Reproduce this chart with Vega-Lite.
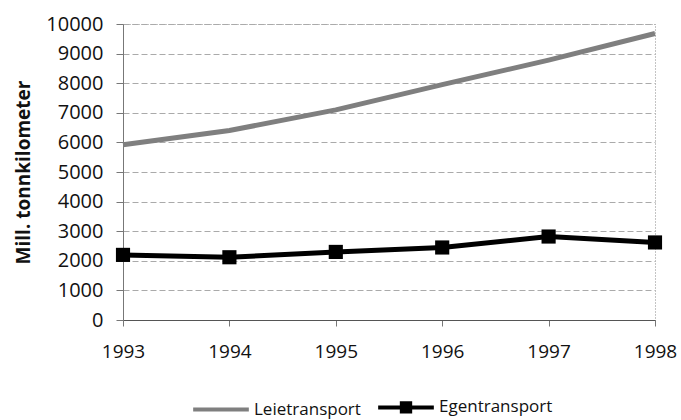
{
  "$schema": "https://vega.github.io/schema/vega-lite/v6.json",
  "autosize": {"type": "none"},
  "width": 532,
  "height": 296,
  "padding": {"left": 123, "top": 24, "right": 26, "bottom": 100},
  "background": "white",
  "config": {
    "font": "Open Sans",
    "view": {"stroke": "#888", "strokeDash": [1, 2], "strokeWidth": 1}
  },
  "data": {
    "values": [
      {"year": 1993, "series": "Leietransport", "value": 5920},
      {"year": 1994, "series": "Leietransport", "value": 6400},
      {"year": 1995, "series": "Leietransport", "value": 7100},
      {"year": 1996, "series": "Leietransport", "value": 7950},
      {"year": 1997, "series": "Leietransport", "value": 8780},
      {"year": 1998, "series": "Leietransport", "value": 9680},
      {"year": 1993, "series": "Egentransport", "value": 2200},
      {"year": 1994, "series": "Egentransport", "value": 2120},
      {"year": 1995, "series": "Egentransport", "value": 2300},
      {"year": 1996, "series": "Egentransport", "value": 2450},
      {"year": 1997, "series": "Egentransport", "value": 2820},
      {"year": 1998, "series": "Egentransport", "value": 2620}
    ]
  },
  "encoding": {
    "x": {
      "field": "year",
      "type": "quantitative",
      "scale": {"domain": [1993, 1998], "nice": false, "zero": false},
      "axis": {
        "title": null,
        "values": [1993, 1994, 1995, 1996, 1997, 1998],
        "format": "d",
        "grid": false,
        "domainColor": "#555",
        "tickColor": "#777",
        "tickSize": 6,
        "labelPadding": 16,
        "labelFontSize": 19,
        "labelColor": "#111",
        "labelFlush": false
      }
    },
    "y": {
      "field": "value",
      "type": "quantitative",
      "scale": {"domain": [0, 10000], "nice": false},
      "axis": {
        "title": "Mill. tonnkilometer",
        "titleFontSize": 19,
        "titleFontWeight": "bold",
        "titleColor": "#111",
        "titleX": -100,
        "titleY": 148,
        "titleAlign": "center",
        "titleBaseline": "middle",
        "values": [0, 1000, 2000, 3000, 4000, 5000, 6000, 7000, 8000, 9000, 10000],
        "format": "d",
        "gridColor": "#aaa",
        "gridDash": [6, 3],
        "gridWidth": 1,
        "domainColor": "#777",
        "tickColor": "#777",
        "tickSize": 7,
        "labelPadding": 13,
        "labelFontSize": 20,
        "labelColor": "#111"
      }
    }
  },
  "layer": [
    {
      "mark": {"type": "line", "strokeWidth": 5},
      "encoding": {
        "color": {
          "field": "series",
          "type": "nominal",
          "scale": {"domain": ["Leietransport", "Egentransport"], "range": ["#7f7f7f", "#000000"]},
          "legend": {
            "title": null,
            "orient": "none",
            "direction": "horizontal",
            "legendX": 68,
            "legendY": 353,
            "labelFontSize": 17,
            "labelColor": "#111",
            "labelOffset": 3,
            "columnPadding": 9,
            "symbolSize": 3100,
            "symbolStrokeWidth": 4,
            "encode": {
              "symbols": {
                "update": {
                  "shape": {"signal": "datum.value === 'Egentransport' ? 'M-1,0H1M-0.15,-0.15H0.15V0.15H-0.15Z' : 'M-1,0H1'"},
                  "fill": {"signal": "datum.value === 'Egentransport' ? '#000' : 'transparent'"},
                  "stroke": {"signal": "datum.value === 'Egentransport' ? '#000' : '#7f7f7f'"},
                  "strokeWidth": {"value": 4}
                }
              }
            }
          }
        }
      }
    },
    {
      "transform": [{"filter": "datum.series === 'Egentransport'"}],
      "mark": {"type": "square", "filled": true, "color": "#000", "size": 200, "opacity": 1}
    }
  ]
}
